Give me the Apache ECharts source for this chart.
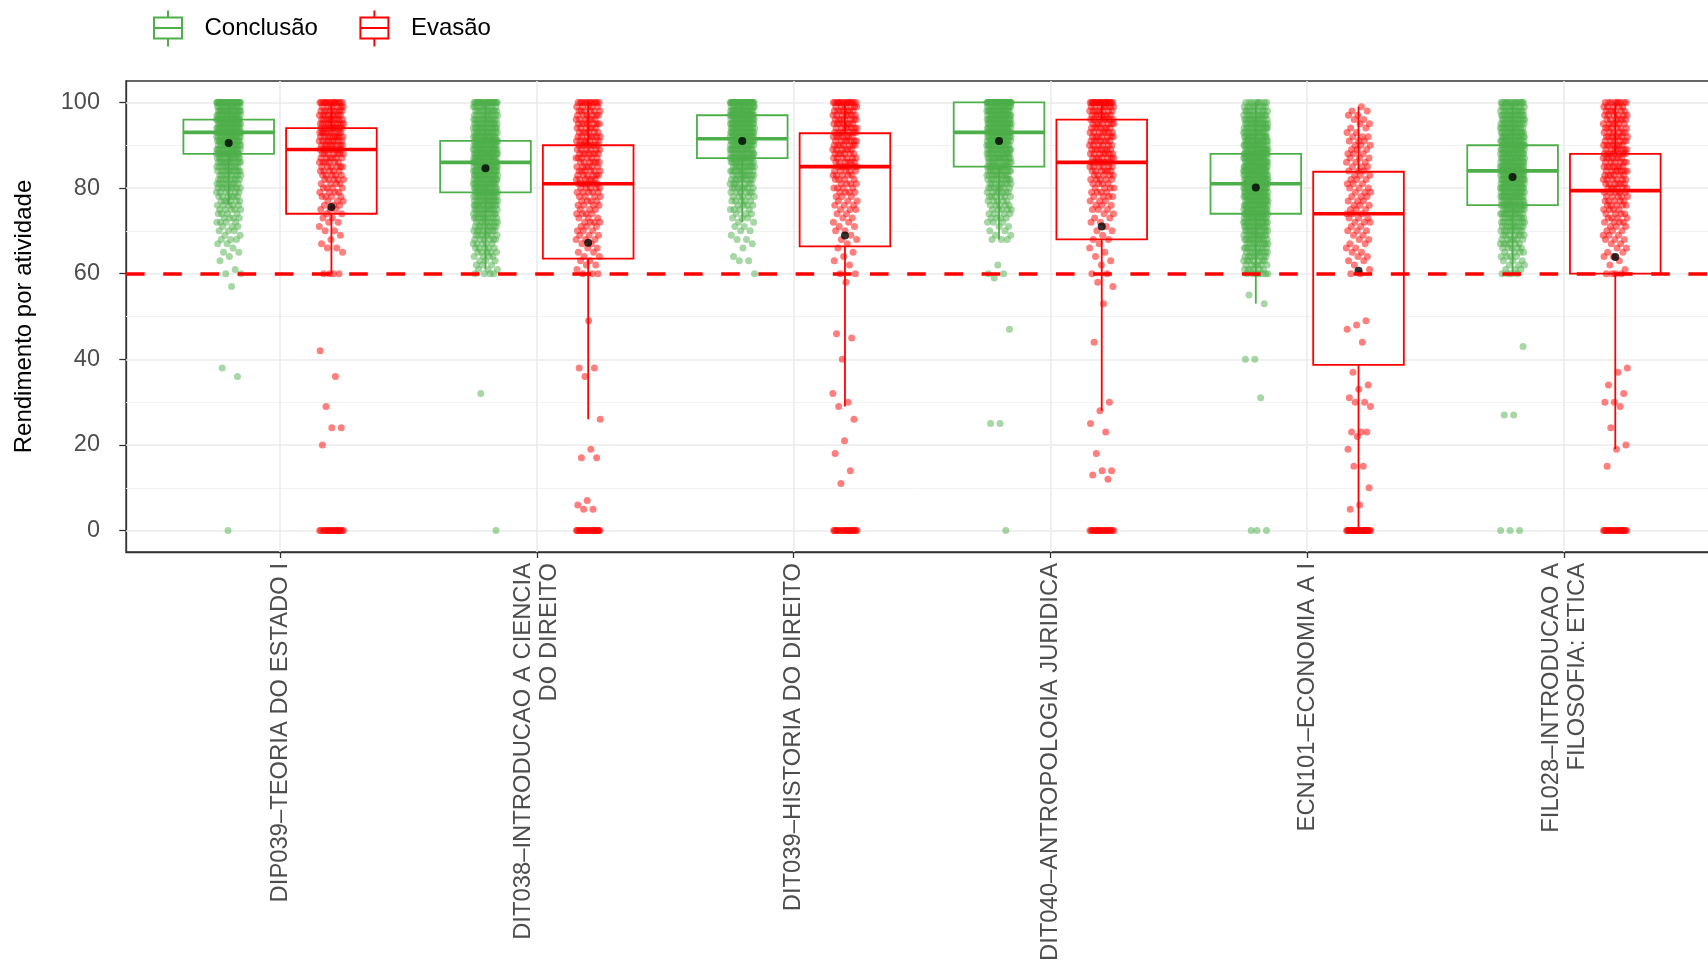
<!DOCTYPE html>
<html><head><meta charset="utf-8">
<script src="https://cdn.jsdelivr.net/npm/echarts@6/dist/echarts.min.js"></script>
<style>html,body{margin:0;padding:0;background:#fff}#c{width:1708px;height:967px}</style>
</head><body><div id="c"></div>
<script>
// ---------------- DATA ----------------
const categories = [
  'DIP039–TEORIA DO ESTADO I',
  'DIT038–INTRODUCAO A CIENCIA\nDO DIREITO',
  'DIT039–HISTORIA DO DIREITO',
  'DIT040–ANTROPOLOGIA JURIDICA',
  'ECN101–ECONOMIA A I',
  'FIL028–INTRODUCAO A\nFILOSOFIA: ETICA'
];
const seriesNames = ['Conclusão', 'Evasão'];
const yTicks = [0, 20, 40, 60, 80, 100];
const yMinorGrid = [10, 30, 50, 70, 90];
const threshold = 60;

// box stats: [lower whisker, Q1, median, Q3, upper whisker]
const conclusaoBox = [[76,88,93,96,100],[61,79,86,91,100],[72,87,91.5,97,100],[68,85,93,100,100],[53,74,81,88,100],[60,76,84,90,100]];
const evasaoBox    = [[60,74,89,94,100],[26,63.5,81,90,100],[29,66.4,85,92.8,100],[28,68,86,96,100],[0,38.7,74,83.8,99],[19,60,79.4,88,100]];
const conclusaoMean = [90.5, 84.6, 91.0, 91.0, 80.1, 82.6];
const evasaoMean    = [75.6, 67.2, 68.9, 71.0, 60.7, 63.9];

// individual points: [value, count]
const ptsC1 = [[100,34],[99,14],[98,17],[97,17],[96,20],[95,20],[94,20],[93,20],[92,17],[91,17],[90,15],[89,15],[88,14],[87,12],[86,12],[85,10],[84,10],[83,8],[82,8],[81,8],[80,8],[79,6],[78,6],[77,6],[76,5],[75,5],[74,4],[73,4],[72,4],[71,3],[70,3],[69,2],[68,3],[67,2],[66,1],[65,2],[64,1],[63,1],[61,1],[60,2],[57,1],[38,1],[36,1],[0,1]];
const ptsE1 = [[100,15],[99,6],[98,8],[97,8],[96,9],[95,9],[94,9],[93,9],[92,9],[91,8],[90,8],[89,8],[88,7],[87,6],[86,6],[85,6],[84,5],[83,5],[82,5],[81,4],[80,4],[79,4],[78,4],[77,3],[76,3],[75,3],[74,2],[73,2],[72,2],[71,1],[70,2],[69,1],[68,1],[67,1],[66,2],[65,1],[60,4],[42,1],[36,1],[29,1],[24,2],[20,1],[0,20]];
const ptsC2 = [[100,24],[99,10],[98,11],[97,11],[96,13],[95,13],[94,15],[93,15],[92,16],[91,17],[90,18],[89,18],[88,19],[87,19],[86,19],[85,19],[84,18],[83,18],[82,16],[81,16],[80,15],[79,15],[78,13],[77,13],[76,12],[75,11],[74,10],[73,10],[72,8],[71,8],[70,8],[69,7],[68,6],[67,5],[66,5],[65,5],[64,4],[63,3],[62,3],[61,3],[60,4],[32,1],[0,1]];
const ptsE2 = [[100,12],[99,5],[98,6],[97,6],[96,6],[95,7],[94,6],[93,6],[92,7],[91,7],[90,7],[89,6],[88,7],[87,6],[86,6],[85,6],[84,6],[83,6],[82,6],[81,6],[80,5],[79,5],[78,4],[77,4],[76,4],[75,3],[74,4],[73,3],[72,4],[71,3],[70,3],[69,3],[68,3],[67,2],[66,2],[65,2],[64,2],[63,2],[62,2],[61,1],[60,3],[49,1],[38,2],[36,1],[26,1],[19,1],[17,2],[7,1],[6,1],[5,2],[0,22]];
const ptsC3 = [[100,40],[99,16],[98,19],[97,19],[96,19],[95,19],[94,19],[93,19],[92,19],[91,18],[90,17],[89,16],[88,14],[87,14],[86,12],[85,11],[84,10],[83,9],[82,8],[81,7],[80,7],[79,6],[78,5],[77,5],[76,4],[75,4],[74,3],[73,3],[72,2],[71,2],[70,2],[69,1],[68,2],[67,1],[66,1],[64,1],[63,2],[60,1]];
const ptsE3 = [[100,15],[99,6],[98,7],[97,7],[96,7],[95,7],[94,7],[93,7],[92,7],[91,7],[90,7],[89,6],[88,6],[87,6],[86,6],[85,6],[84,5],[83,5],[82,4],[81,4],[80,4],[79,4],[78,3],[77,3],[76,3],[75,3],[74,2],[73,2],[72,2],[71,2],[70,2],[69,1],[68,2],[67,1],[66,1],[65,1],[64,1],[63,1],[62,1],[60,2],[58,1],[46,1],[45,1],[40,1],[32,1],[30,1],[29,1],[26,1],[21,1],[18,1],[14,1],[11,1],[0,20]];
const ptsC4 = [[100,60],[99,16],[98,19],[97,19],[96,19],[95,19],[94,19],[93,19],[92,17],[91,17],[90,16],[89,16],[88,14],[87,14],[86,12],[85,12],[84,11],[83,10],[82,9],[81,8],[80,7],[79,7],[78,6],[77,5],[76,5],[75,5],[74,4],[73,4],[72,3],[71,2],[70,2],[69,2],[68,3],[62,1],[60,2],[59,1],[47,1],[25,2],[0,1]];
const ptsE4 = [[100,20],[99,7],[98,7],[97,7],[96,7],[95,7],[94,7],[93,7],[92,7],[91,7],[90,6],[89,7],[88,7],[87,7],[86,7],[85,6],[84,6],[83,5],[82,5],[81,4],[80,4],[79,4],[78,4],[77,3],[76,3],[75,3],[74,2],[73,2],[72,2],[71,1],[70,2],[69,1],[68,2],[67,1],[66,1],[65,1],[64,1],[63,1],[62,1],[60,2],[58,1],[57,1],[53,1],[44,1],[30,1],[28,1],[25,1],[23,1],[18,1],[14,2],[13,1],[12,1],[0,22]];
const ptsC5 = [[100,9],[99,8],[98,9],[97,11],[96,12],[95,13],[94,14],[93,14],[92,15],[91,16],[90,17],[89,17],[88,18],[87,19],[86,19],[85,20],[84,20],[83,20],[82,20],[81,20],[80,20],[79,19],[78,19],[77,18],[76,17],[75,17],[74,16],[73,15],[72,14],[71,14],[70,12],[69,12],[68,11],[67,10],[66,9],[65,9],[64,8],[63,7],[62,6],[61,6],[60,7],[55,1],[53,1],[40,2],[31,1],[0,3]];
const ptsE5 = [[99,1],[98,2],[97,2],[96,2],[95,2],[94,2],[93,2],[92,3],[91,3],[90,3],[89,3],[88,3],[87,3],[86,3],[85,3],[84,3],[83,3],[82,3],[81,3],[80,3],[79,3],[78,3],[77,3],[76,3],[75,3],[74,3],[73,3],[72,3],[71,2],[70,3],[69,2],[68,2],[67,2],[66,2],[65,2],[64,2],[63,2],[62,1],[61,1],[60,2],[49,1],[48,1],[47,1],[44,1],[37,1],[34,1],[33,1],[31,1],[30,2],[29,1],[23,3],[22,1],[19,1],[15,2],[10,1],[6,1],[5,1],[0,30]];
const ptsC6 = [[100,16],[99,10],[98,11],[97,13],[96,13],[95,13],[94,15],[93,15],[92,16],[91,16],[90,16],[89,17],[88,17],[87,17],[86,17],[85,19],[84,19],[83,19],[82,17],[81,17],[80,17],[79,16],[78,16],[77,14],[76,14],[75,12],[74,11],[73,10],[72,9],[71,9],[70,8],[69,7],[68,6],[67,6],[66,5],[65,4],[64,4],[63,3],[62,3],[61,3],[60,4],[43,1],[27,2],[0,3]];
const ptsE6 = [[100,9],[99,5],[98,6],[97,6],[96,6],[95,6],[94,6],[93,6],[92,7],[91,6],[90,7],[89,7],[88,7],[87,7],[86,6],[85,7],[84,7],[83,6],[82,6],[81,6],[80,6],[79,5],[78,5],[77,5],[76,5],[75,4],[74,4],[73,4],[72,4],[71,3],[70,3],[69,3],[68,3],[67,2],[66,2],[65,2],[64,2],[63,1],[62,1],[61,1],[60,4],[38,1],[37,1],[34,1],[32,1],[30,2],[29,1],[24,1],[20,1],[19,1],[15,1],[0,22]];

const conclusaoPoints = [ptsC1, ptsC2, ptsC3, ptsC4, ptsC5, ptsC6];
const evasaoPoints = [ptsE1, ptsE2, ptsE3, ptsE4, ptsE5, ptsE6];

// ---------------- STYLE / LAYOUT ----------------
const GREEN = '#4DAF4A', RED = '#FF0000';
const DODGE = 0.2, BOX_W = 0.353, JITTER = 0.048;
const FONT = '"Liberation Sans", Arial, Helvetica, sans-serif';

function expandPoints(pairs, x) {
  const out = []; let i = 0;
  pairs.forEach(function (p) {
    for (let k = 0; k < p[1]; k++) {
      const j = (((i + 1) * 0.6180339887) % 1 - 0.5) * 2 * JITTER;
      out.push([x + j, p[0]]); i++;
    }
  });
  return out;
}
function buildPoints(groups, off) {
  let all = [];
  groups.forEach(function (g, ci) { all = all.concat(expandPoints(g, ci + 1 + off)); });
  return all;
}
function boxData(stats, off) { return stats.map(function (b, i) { return [i + 1 + off].concat(b); }); }
function meanData(m, off) { return m.map(function (v, i) { return [i + 1 + off, v]; }); }

function makeBoxRender(color) {
  return function (params, api) {
    const x = api.value(0);
    const lo = api.coord([x, api.value(1)]);
    const q1 = api.coord([x, api.value(2)]);
    const md = api.coord([x, api.value(3)]);
    const q3 = api.coord([x, api.value(4)]);
    const hi = api.coord([x, api.value(5)]);
    const hw = api.size([BOX_W, 0])[0] / 2;
    const ls = { stroke: color, lineWidth: 1.8, fill: null };
    return { type: 'group', children: [
      { type: 'line', shape: { x1: lo[0], y1: lo[1], x2: q1[0], y2: q1[1] }, style: ls },
      { type: 'line', shape: { x1: q3[0], y1: q3[1], x2: hi[0], y2: hi[1] }, style: ls },
      { type: 'rect', shape: { x: q3[0] - hw, y: q3[1], width: 2 * hw, height: q1[1] - q3[1] },
        style: { fill: '#ffffff', stroke: color, lineWidth: 1.8 } },
      { type: 'line', shape: { x1: md[0] - hw, y1: md[1], x2: md[0] + hw, y2: md[1] },
        style: { stroke: color, lineWidth: 3.6 } }
    ]};
  };
}

const legendIcon = 'path://M14 0L16 0L16 6L14 6Z M0 6L30 6L30 29L0 29Z M2 8L2 27L28 27L28 8Z M2 16.5L28 16.5L28 18.5L2 18.5Z M14 29L16 29L16 36L14 36Z';

const chart = echarts.init(document.getElementById('c'), null, { renderer: 'canvas' });
chart.setOption({
  animation: false,
  backgroundColor: '#ffffff',
  textStyle: { fontFamily: FONT },
  legend: {
    left: 153, top: 10.5, padding: 0, itemWidth: 31, itemHeight: 36, itemGap: 41.5,
    textStyle: { fontSize: 24, color: '#000', fontFamily: FONT, padding: [0, 0, 0, 16] },
    data: [{ name: seriesNames[0], icon: legendIcon }, { name: seriesNames[1], icon: legendIcon }]
  },
  grid: { left: 126, top: 81, width: 1592, height: 471, outerBoundsMode: 'none', containLabel: false,
    show: true, borderColor: '#333333', borderWidth: 1.3, backgroundColor: '#ffffff' },
  xAxis: {
    type: 'value', min: 0.4, max: 6.6,
    axisLine: { show: true, onZero: false, lineStyle: { color: '#333333', width: 1.3 } },
    axisTick: { show: true, length: 6, lineStyle: { color: '#333333', width: 1.3 }, customValues: [1, 2, 3, 4, 5, 6] },
    axisLabel: {
      customValues: [1, 2, 3, 4, 5, 6], rotate: 90, margin: 11, fontSize: 23.8, color: '#4d4d4d',
      fontFamily: FONT, lineHeight: 26,
      formatter: function (v) { return categories[Math.round(v) - 1] || ''; }
    },
    splitLine: { show: false }
  },
  yAxis: {
    type: 'value', min: -5, max: 105,
    name: 'Rendimento por atividade', nameLocation: 'middle', nameRotate: 90, nameGap: 90,
    nameTextStyle: { fontSize: 24, color: '#000', fontFamily: FONT },
    axisLine: { show: true, onZero: false, lineStyle: { color: '#333333', width: 1.3 } },
    axisTick: { show: true, length: 6.7, lineStyle: { color: '#333333', width: 1.3 }, customValues: yTicks },
    axisLabel: { customValues: yTicks, margin: 26, fontSize: 23.5, color: '#4d4d4d', fontFamily: FONT },
    splitLine: { show: false }
  },
  series: [
    { // panel grid lines (kept beneath boxes and points)
      type: 'line', data: [], z: 1, silent: true,
      markLine: { z: 1, silent: true, symbol: 'none', label: { show: false }, animation: false,
        data: yMinorGrid.map(function (v) { return { yAxis: v, lineStyle: { color: '#f0f0f0', width: 0.9, type: 'solid' } }; })
          .concat(yTicks.map(function (v) { return { yAxis: v, lineStyle: { color: '#ebebeb', width: 1.6, type: 'solid' } }; }))
          .concat(categories.map(function (c, i) { return { xAxis: i + 1, lineStyle: { color: '#ebebeb', width: 1.6, type: 'solid' } }; }))
      }
    },
    { name: seriesNames[0], type: 'custom', z: 2, itemStyle: { color: GREEN }, renderItem: makeBoxRender(GREEN),
      data: boxData(conclusaoBox, -DODGE), encode: { x: 0, y: [1, 2, 3, 4, 5] } },
    { name: seriesNames[1], type: 'custom', z: 2, itemStyle: { color: RED }, renderItem: makeBoxRender(RED),
      data: boxData(evasaoBox, DODGE), encode: { x: 0, y: [1, 2, 3, 4, 5] } },
    { name: seriesNames[0], type: 'scatter', z: 3, symbolSize: 7, large: false, progressive: 0,
      itemStyle: { color: GREEN, opacity: 0.5 }, data: buildPoints(conclusaoPoints, -DODGE) },
    { name: seriesNames[1], type: 'scatter', z: 3, symbolSize: 7, large: false, progressive: 0,
      itemStyle: { color: RED, opacity: 0.5 }, data: buildPoints(evasaoPoints, DODGE) },
    { name: 'Média', type: 'scatter', z: 4, symbolSize: 8, itemStyle: { color: '#000000' },
      data: meanData(conclusaoMean, -DODGE).concat(meanData(evasaoMean, DODGE)) },
    { // threshold line
      type: 'line', data: [], z: 6, silent: true,
      markLine: { z: 10, silent: true, symbol: 'none', label: { show: false }, animation: false,
        data: [{ yAxis: threshold }],
        lineStyle: { color: RED, width: 3.6, type: [18.6, 18.6] } }
    }
  ]
});
</script>
</body></html>
